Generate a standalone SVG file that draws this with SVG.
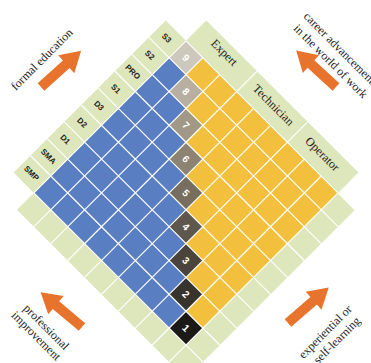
<svg xmlns="http://www.w3.org/2000/svg" width="371" height="363" viewBox="0 0 371 363">
<style>
.blue{fill:#5a7ec2}
.yellow{fill:#f3c03e}
.green{fill:#dee6bc}
.grid{fill:none;stroke:#ffffff;stroke-width:1.2;vector-effect:non-scaling-stroke}
.lbl{font-family:"Liberation Sans",Arial,sans-serif;font-weight:bold;font-size:8px;fill:#222;text-anchor:middle;dominant-baseline:central}
.num{font-family:"Liberation Sans",Arial,sans-serif;font-weight:bold;font-size:10px;fill:#ffffff;text-anchor:middle;dominant-baseline:central}
.role{font-family:"Liberation Serif","Times New Roman",serif;font-size:12px;fill:#222;text-anchor:middle;dominant-baseline:central}
.cap{font-family:"Liberation Serif","Times New Roman",serif;font-size:12px;fill:#222}
.arrow{fill:#e8732c}
</style>
<defs>
<polygon id="arr" points="0,-5 34,-5 34,-12 54,0 34,12 34,5 0,5"/>
</defs>
<rect width="371" height="363" fill="#ffffff"/>

<g id="matrix" transform="matrix(16.9,-16.9,-16.9,-16.9,186,345)">
  <g id="bands">
    <rect class="green" x="0" y="9" width="9" height="1.2"/>
    <rect class="green" x="9" y="0" width="1.2" height="9"/>
    <rect class="green" x="-1" y="-1" width="1" height="10"/>
    <rect class="green" x="0" y="-1" width="9" height="1"/>
  </g>
  <g id="formal-area">
    <rect class="blue" x="0" y="0" width="9" height="9"/>
  </g>
  <g id="work-area">
    <polygon class="yellow" points="0,0 9,0 9,9"/>
  </g>
  <g id="levels">
    <rect x="0" y="0" width="1" height="1" fill="#1c1a17"/>
    <rect x="1" y="1" width="1" height="1" fill="#37332d"/>
    <rect x="2" y="2" width="1" height="1" fill="#4a443c"/>
    <rect x="3" y="3" width="1" height="1" fill="#5e574d"/>
    <rect x="4" y="4" width="1" height="1" fill="#776e60"/>
    <rect x="5" y="5" width="1" height="1" fill="#8c8372"/>
    <rect x="6" y="6" width="1" height="1" fill="#a19886"/>
    <rect x="7" y="7" width="1" height="1" fill="#b7b0a0"/>
    <rect x="8" y="8" width="1" height="1" fill="#cdc8bc"/>
  </g>
  <g id="connectors">
    <path class="grid" d="M0 -1V9 M1 -1V10.2 M2 -1V10.2 M3 -1V10.2 M4 -1V10.2 M5 -1V10.2 M6 -1V10.2 M7 -1V10.2 M8 -1V10.2 M9 -1V9
      M-1 0H9 M-1 1H9 M-1 2H9 M-1 3H10.2 M-1 4H9 M-1 5H9 M-1 6H10.2 M-1 7H9 M-1 8H9 M0 9H9"/>
  </g>
</g>

<g id="level-numbers">
  <text class="num" transform="translate(186,328.1) rotate(45)">1</text>
  <text class="num" transform="translate(186,294.3) rotate(45)">2</text>
  <text class="num" transform="translate(186,260.5) rotate(45)">3</text>
  <text class="num" transform="translate(186,226.7) rotate(45)">4</text>
  <text class="num" transform="translate(186,192.9) rotate(45)">5</text>
  <text class="num" transform="translate(186,159.1) rotate(45)">6</text>
  <text class="num" transform="translate(186,125.3) rotate(45)">7</text>
  <text class="num" transform="translate(186,91.5) rotate(45)">8</text>
  <text class="num" transform="translate(186,57.7) rotate(45)">9</text>
</g>

<g id="education-labels">
  <text class="lbl" transform="translate(31.3,173.4) rotate(45)">SMP</text>
  <text class="lbl" transform="translate(48.2,156.5) rotate(45)">SMA</text>
  <text class="lbl" transform="translate(65.1,139.6) rotate(45)">D1</text>
  <text class="lbl" transform="translate(82,122.7) rotate(45)">D2</text>
  <text class="lbl" transform="translate(98.9,105.8) rotate(45)">D3</text>
  <text class="lbl" transform="translate(115.8,88.9) rotate(45)">S1</text>
  <text class="lbl" transform="translate(132.7,72) rotate(45)">PRO</text>
  <text class="lbl" transform="translate(149.6,55.1) rotate(45)">S2</text>
  <text class="lbl" transform="translate(166.5,38.2) rotate(45)">S3</text>
</g>

<g id="work-labels">
  <text class="role" transform="translate(224.5,52.6) rotate(45)">Expert</text>
  <text class="role" transform="translate(273.5,105) rotate(45)">Technician</text>
  <text class="role" transform="translate(322.5,154) rotate(45)">Operator</text>
</g>

<g id="formal-education">
  <use href="#arr" class="arrow" transform="translate(41,87) rotate(-42)"/>
  <text class="cap" text-anchor="middle" transform="translate(44.6,62.1) rotate(-45)">formal education</text>
</g>

<g id="career-advancement">
  <use href="#arr" class="arrow" transform="translate(336,87) rotate(-137.5)"/>
  <text class="cap" transform="translate(302.9,17.1) rotate(45)">career advancement</text>
  <text class="cap" transform="translate(292.9,29.1) rotate(45)">in the world of work</text>
</g>

<g id="professional-improvement">
  <use href="#arr" class="arrow" transform="translate(82,327) rotate(-140)"/>
  <text class="cap" text-anchor="middle" transform="translate(43.6,329.8) rotate(45)">professional</text>
  <text class="cap" text-anchor="middle" transform="translate(33.4,338.6) rotate(45)">improvement</text>
</g>

<g id="experiential-learning">
  <use href="#arr" class="arrow" transform="translate(288,323) rotate(-41)"/>
  <text class="cap" text-anchor="middle" transform="translate(328,334.6) rotate(-45)">experiential or</text>
  <text class="cap" text-anchor="middle" transform="translate(339.6,343) rotate(-45)">self-learning</text>
</g>
</svg>
